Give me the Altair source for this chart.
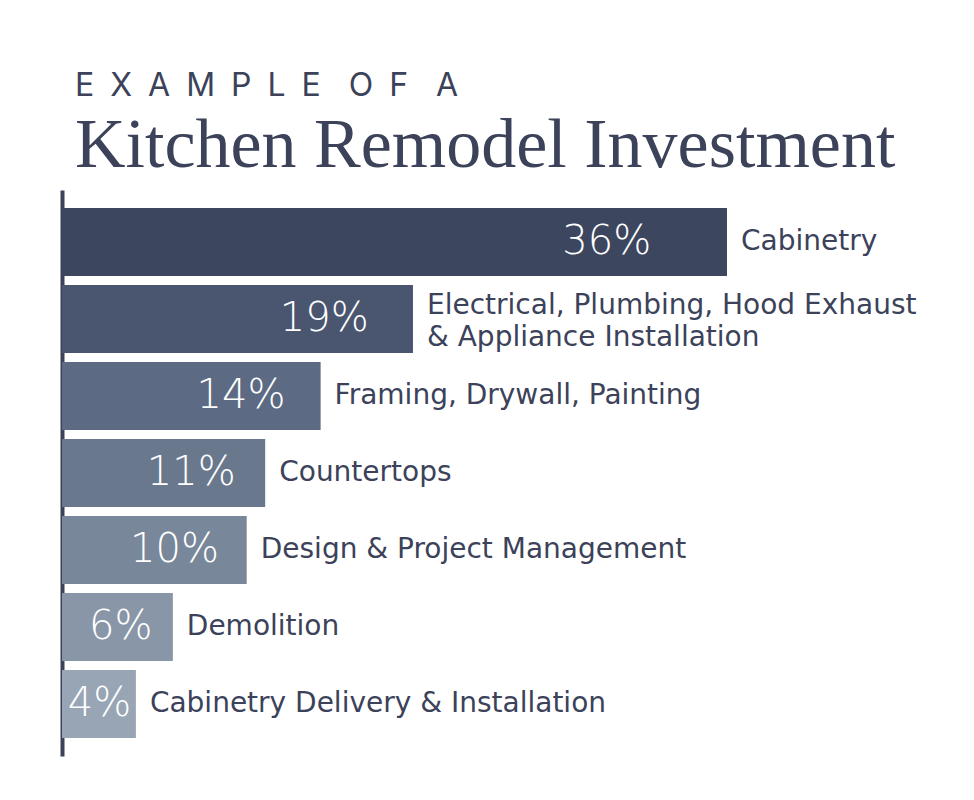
import altair as alt
import pandas as pd

categories = [
    "Cabinetry",
    "Electrical, Plumbing, Hood Exhaust\n& Appliance Installation",
    "Framing, Drywall, Painting",
    "Countertops",
    "Design & Project Management",
    "Demolition",
    "Cabinetry Delivery & Installation",
]
shares = [36, 19, 14, 11, 10, 6, 4]
bar_colors = ["#3c465e", "#4a5670", "#5c6a83", "#6a788e", "#788799", "#8896a8", "#98a5b5"]

navy = "#3b4259"
df = pd.DataFrame({"category": categories, "share": shares})

y_enc = alt.Y("category:N", sort=categories,
              scale=alt.Scale(paddingInner=0.117, paddingOuter=0.234),
              axis=alt.Axis(title=None, labels=False, ticks=False, domain=True,
                            domainColor=navy, domainWidth=4, grid=False))
x_scale = alt.Scale(domain=[0, 36], nice=False, zero=True)

base = alt.Chart(df)

bars = base.mark_bar(cornerRadius=0).encode(
    x=alt.X("share:Q", scale=x_scale, axis=None),
    y=y_enc,
    color=alt.Color("category:N", sort=categories,
                    scale=alt.Scale(domain=categories, range=bar_colors), legend=None),
)

# percentage sits inside the bar, pushed right when the bar is too short to hold it
pct = base.transform_calculate(
    pos="max(datum.share * 0.9 - 0.5, 3.75)",
    pct_label="datum.share + '%'",
).mark_text(align="right", baseline="middle", color="white", font="DejaVu Sans",
            fontSize=40, fontWeight=200).encode(
    x=alt.X("pos:Q", scale=x_scale, axis=None),
    y=y_enc,
    text="pct_label:N",
)

label_style = dict(align="left", baseline="middle", dx=14, color=navy, font="DejaVu Sans",
                   fontSize=28, fontWeight=400, lineBreak="\n", lineHeight=32)

names_single = base.transform_filter("indexof(datum.category, '\\n') < 0").mark_text(
    **label_style).encode(
    x=alt.X("share:Q", scale=x_scale, axis=None),
    y=y_enc,
    text="category:N",
)

names_multi = base.transform_filter("indexof(datum.category, '\\n') >= 0").mark_text(
    dy=-13, **label_style).encode(
    x=alt.X("share:Q", scale=x_scale, axis=None),
    y=y_enc,
    text="category:N",
)

gap = "\u2002"
word_gap = "\u2002 \u200a"
kicker = word_gap.join(gap.join(list(w)) for w in ["EXAMPLE", "OF", "A"])

chart = alt.layer(bars, pct, names_single, names_multi).properties(
    width=665,
    height=566,
    background="white",
    autosize=alt.AutoSizeParams(type="none"),
    padding={"left": 54, "top": 182, "right": 239, "bottom": 36},
    title=alt.TitleParams(
        text=kicker,
        subtitle="Kitchen Remodel Investment",
        anchor="start",
        frame="group",
        dx=13,
        offset=8,
        font="Inter",
        fontSize=32,
        fontWeight=400,
        color=navy,
        subtitleFont="Liberation Serif",
        subtitleFontSize=70,
        subtitleFontWeight=400,
        subtitleColor=navy,
        subtitlePadding=9,
    ),
).configure_view(stroke=None)

chart.save("out.html", embed_options={"renderer": "svg", "actions": False})
